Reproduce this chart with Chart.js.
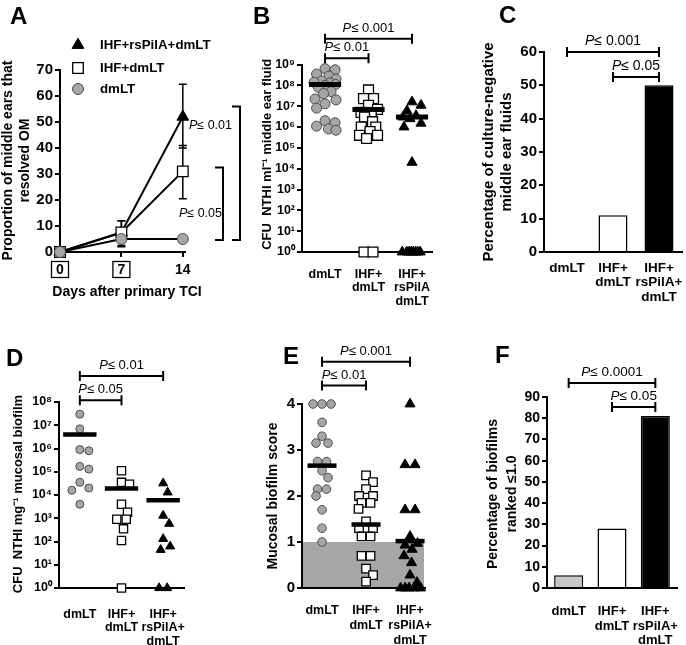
<!DOCTYPE html>
<html>
<head>
<meta charset="utf-8">
<title>Figure</title>
<script src="https://cdn.jsdelivr.net/npm/chart.js@4.4.1/dist/chart.umd.min.js"></script>
<style>
  body { margin: 0; background: #fff; }
  #fig { position: relative; width: 686px; height: 645px; overflow: hidden; background: #fff; }
  #fig canvas { position: absolute; }
  .tag { position: absolute; font: bold 24px 'Liberation Sans', Arial, sans-serif; line-height: 24px; color: #000; }
</style>
</head>
<body>
<div id="fig">
  <canvas id="cA" width="275" height="310" style="left:0;top:0"></canvas>
  <canvas id="cB" width="195" height="310" style="left:245px;top:0"></canvas>
  <canvas id="cC" width="216" height="310" style="left:470px;top:0"></canvas>
  <canvas id="cD" width="235" height="315" style="left:0;top:330px"></canvas>
  <canvas id="cE" width="200" height="315" style="left:240px;top:330px"></canvas>
  <canvas id="cF" width="216" height="315" style="left:470px;top:330px"></canvas>
  <div class="tag" style="left:10px;top:4px">A</div>
  <div class="tag" style="left:253px;top:4px">B</div>
  <div class="tag" style="left:499px;top:3px">C</div>
  <div class="tag" style="left:6px;top:346px">D</div>
  <div class="tag" style="left:283px;top:344px">E</div>
  <div class="tag" style="left:495px;top:343px">F</div>
</div>
<script>
const FONT = "'Liberation Sans', Arial, Helvetica, sans-serif";
const SUP = ['⁰', '¹', '²', '³', '⁴', '⁵', '⁶', '⁷', '⁸', '⁹'];

// A - resolution of OM over time
const days = [0, 7, 14];
const aLegend = ['IHF+rsPilA+dmLT', 'IHF+dmLT', 'dmLT'];
const aTri = [0, 7.5, 52];
const aTriLow = [0, 2.5, 40];
const aTriHigh = [0, 12, 64.5];
const aSq = [0, 7.5, 31];
const aSqLow = [0, 2, 20.5];
const aSqHigh = [0, 12, 41];
const aCirc = [0, 5, 5];
const aTicks = [0, 10, 20, 30, 40, 50, 60, 70];

const groupsB = [['dmLT'], ['IHF+', 'dmLT'], ['IHF+', 'rsPilA', 'dmLT']];
const groups = [['dmLT'], ['IHF+', 'dmLT'], ['IHF+', 'rsPilA+', 'dmLT']];

// B - CFU per ml middle ear fluid
const bDm = [6.3e8, 5.6e8, 3.5e8, 2.8e8, 2e8, 1.6e8, 1.4e8, 1.3e8, 1.1e8, 1e8, 8e7, 5e7, 4e7, 2.2e7, 2e7, 1.3e7, 8e6, 2e6, 1.6e6, 1.1e6, 8e5, 7e5];
const bIhf = [6e7, 2.3e7, 2.3e7, 1.1e7, 7e6, 5e6, 4e6, 4e6, 3e6, 1.8e6, 1e6, 1e6, 6e5, 4e5, 4e5, 2.8e5, 1, 1];
const bPil = [1.6e7, 1.1e7, 6e6, 3.5e6, 3e6, 2.5e6, 1.5e6, 1e6, 2e4, 1, 1, 1, 1, 1, 1, 1, 1];
const bMed = [1.1e8, 7e6, 3e6];
const bTicks = [1, 1e1, 1e2, 1e3, 1e4, 1e5, 1e6, 1e7, 1e8, 1e9];

// C - culture-negative fluids
const cPct = [0, 11, 50];
const cTicks = [0, 10, 20, 30, 40, 50, 60];

// D - CFU per mg mucosal biofilm
const dDm = [3e7, 7e6, 9e5, 8e5, 1.7e5, 1.3e5, 3.5e4, 2e4, 1.6e4, 4e3];
const dIhf = [1.1e5, 3.5e4, 2.9e4, 4e3, 1.8e3, 9e2, 9e2, 3.5e2, 1.1e2, 1];
const dPil = [3.2e4, 1.3e4, 1.3e3, 5.8e2, 1.3e2, 6.2e1, 4.4e1, 1, 1];
const dMed = [4e6, 1.9e4, 6e3];
const dTicks = [1, 1e1, 1e2, 1e3, 1e4, 1e5, 1e6, 1e7, 1e8];

// E - mucosal biofilm score
const eDm = [4, 4, 4, 3.6, 3.3, 3.15, 3.15, 2.75, 2.75, 2.55, 2.4, 2.15, 2.15, 2.0, 1.7, 1.3, 1.0];
const eIhf = [2.45, 2.3, 2.15, 2.0, 2.0, 1.85, 1.85, 1.72, 1.45, 1.3, 1.3, 1.12, 1.12, 0.7, 0.7, 0.42, 0.28, 0.14];
const ePil = [4, 2.68, 2.68, 1.7, 1.7, 1.12, 0.97, 0.93, 0.84, 0.7, 0.55, 0.28, 0.12, 0, 0, 0, 0, 0];
const eMed = [2.66, 1.38, 1.02];
const eBand = [0, 1];
const eTicks = [0, 1, 2, 3, 4];

// F - biofilms ranked <= 1
const fPct = [6, 28, 81];
const fTicks = [0, 10, 20, 30, 40, 50, 60, 70, 80, 90];

// significance brackets
const aSig = [{hi: 56, lo: 4.6, p: '0.01'}, {hi: 32.5, lo: 4.6, p: '0.05'}];
const bSig = [{from: 1, to: 3, at: 1.7e10, p: '0.001'}, {from: 1, to: 2, at: 2e9, p: '0.01'}];
const cSig = [{from: 0, to: 2, at: 60, p: '0.001'}, {from: 1, to: 2, at: 52.5, p: '0.05'}];
const dSig = [{from: 1, to: 3, at: 1.3e9, p: '0.01'}, {from: 1, to: 2, at: 1.2e8, p: '0.05'}];
const eSig = [{from: 1, to: 3, at: 4.92, p: '0.001'}, {from: 1, to: 2, at: 4.4, p: '0.01'}];
const fSig = [{from: 0, to: 2, at: 96.6, p: '0.0001'}, {from: 1, to: 2, at: 85.3, p: '0.05'}];

const GRAY = {ps: 'circle', fill: '#a6a6a6', line: '#4d4d4d', bw: 1};
const OPEN = {ps: 'rect', fill: '#fff', line: '#000', bw: 1.3};
const SOLID = {ps: 'triangle', fill: '#000', line: '#000', bw: 1};

function marks(s, r) {
  return {pointStyle: s.ps, pointRadius: r, pointHoverRadius: r, pointBackgroundColor: s.fill,
    pointBorderColor: s.line, pointBorderWidth: s.bw};
}

function bold(size, lh) {
  return {family: FONT, size: size, weight: 'bold', lineHeight: lh || 1.2};
}

function base(pad, x, y) {
  return {
    responsive: false, animation: false, events: [],
    layout: {padding: pad, autoPadding: false},
    plugins: {legend: {display: false}, tooltip: {enabled: false}},
    scales: {x: x, y: y}
  };
}

function yScale(o) {
  return {
    type: o.type || 'linear', min: o.min, max: o.max,
    afterFit: s => { s.width = o.width; s.paddingTop = 0; s.paddingBottom = 0; },
    afterBuildTicks: s => { s.ticks = o.ticks.map(v => ({value: v})); },
    border: {display: true, color: '#000', width: 2},
    grid: {drawOnChartArea: false, drawTicks: true, tickLength: 5, color: '#000', lineWidth: 2},
    ticks: {color: '#000', padding: 2, autoSkip: false, font: bold(o.tick), callback: o.fmt || (v => v)}
  };
}

function xDots(o) {
  return {
    type: 'linear', min: o.min, max: o.max,
    afterFit: s => { s.height = o.height; s.paddingLeft = 0; s.paddingRight = 0; },
    afterBuildTicks: s => { s.ticks = [1, 2, 3].map(v => ({value: v})); },
    border: {display: true, color: '#000', width: 2},
    grid: {display: false},
    ticks: {color: '#000', padding: o.pad, maxRotation: 0, autoSkip: false, font: bold(o.size, o.lh),
      callback: v => o.labels[v - 1]}
  };
}

function xBars(o) {
  return {
    type: 'category',
    afterFit: s => { s.height = o.height; s.paddingLeft = 0; s.paddingRight = 0; },
    border: {display: true, color: '#000', width: 2},
    grid: {display: false},
    ticks: {color: '#000', padding: o.pad, maxRotation: 0, autoSkip: false, font: bold(o.size, o.lh)}
  };
}

// axis titles drawn at full width (the built-in title squeezes long text)
function titlePlugin(t) {
  return {
    id: 'titles',
    afterDraw(chart) {
      const {ctx, chartArea: a} = chart;
      ctx.save();
      ctx.fillStyle = '#000';
      ctx.textAlign = 'center';
      ctx.textBaseline = 'middle';
      if (t.y) {
        ctx.font = 'bold ' + t.y.size + 'px ' + FONT;
        const my = (a.top + a.bottom) / 2 + (t.y.dy || 0);
        t.y.lines.forEach((line, i) => {
          ctx.save();
          ctx.translate(t.y.x + i * t.y.lh, my);
          ctx.rotate(-Math.PI / 2);
          ctx.fillText(line, 0, 0);
          ctx.restore();
        });
      }
      if (t.x) {
        ctx.font = 'bold ' + t.x.size + 'px ' + FONT;
        ctx.fillText(t.x.text, t.x.x, t.x.y);
      }
      ctx.restore();
    }
  };
}

function pText(ctx, val, x, y, size, align) {
  ctx.textBaseline = 'middle';
  ctx.textAlign = 'left';
  const rest = '≤ ' + val;
  ctx.font = 'italic ' + size + 'px ' + FONT;
  const wp = ctx.measureText('P').width;
  ctx.font = size + 'px ' + FONT;
  const wr = ctx.measureText(rest).width;
  const x0 = align === 'right' ? x - wp - wr : x - (wp + wr) / 2;
  ctx.font = 'italic ' + size + 'px ' + FONT;
  ctx.fillText('P', x0, y);
  ctx.font = size + 'px ' + FONT;
  ctx.fillText(rest, x0 + wp, y);
}

function bracketPlugin(items, size) {
  return {
    id: 'sig',
    afterDraw(chart) {
      const {ctx, scales: {x, y}} = chart;
      ctx.save();
      ctx.strokeStyle = '#000';
      ctx.fillStyle = '#000';
      ctx.lineWidth = 2;
      items.forEach(it => {
        const x1 = x.getPixelForValue(it.from), x2 = x.getPixelForValue(it.to);
        const py = y.getPixelForValue(it.at);
        ctx.beginPath();
        ctx.moveTo(x1, py); ctx.lineTo(x2, py);
        ctx.moveTo(x1, py - 5); ctx.lineTo(x1, py + 5);
        ctx.moveTo(x2, py - 5); ctx.lineTo(x2, py + 5);
        ctx.stroke();
        pText(ctx, it.p, (x1 + x2) / 2, py - 10.5, size, 'center');
      });
      ctx.restore();
    }
  };
}

// spread points of one group sideways so they do not sit on each other
function swarm(chart, vals, cat, diam, spread) {
  const xs = chart.scales.x, ys = chart.scales.y;
  const unit = xs.getPixelForValue(cat + 1) - xs.getPixelForValue(cat);
  const cands = [0];
  for (let k = 0.5; k <= spread + 1e-9; k += 0.5) cands.push(k, -k);
  const placed = [];
  vals.map(v => ({v: v, py: ys.getPixelForValue(v)}))
    .sort((p, q) => p.py - q.py)
    .forEach(p => {
      let best = 0, bestGap = -1;
      for (const dx of cands) {
        let gap = Infinity;
        for (const q of placed) gap = Math.min(gap, Math.hypot(q.dx - dx, q.py - p.py));
        if (gap >= diam) { best = dx; break; }
        if (gap > bestGap) { bestGap = gap; best = dx; }
      }
      p.dx = best;
      placed.push(p);
    });
  // centre runs of identical values
  const byVal = {};
  placed.forEach(p => { (byVal[p.v] = byVal[p.v] || []).push(p); });
  Object.values(byVal).forEach(g => {
    if (g.length < 2) return;
    const m = g.reduce((s, p) => s + p.dx, 0) / g.length;
    g.forEach(p => { p.dx -= m; });
  });
  return placed.map(p => ({x: cat + p.dx / unit, y: p.v}));
}

function dotPanel(id, cfg) {
  const sets = cfg.series.map((vals, i) => Object.assign({
    type: 'scatter', data: vals.map(v => ({x: i + 1, y: v})), clip: false, order: 2
  }, marks(cfg.styles[i], cfg.radius[i])));
  const meds = cfg.medians.map((m, i) => ({
    type: 'line', data: [{x: i + 1 - cfg.medHalf, y: m}, {x: i + 1 + cfg.medHalf, y: m}],
    borderColor: '#000', borderWidth: cfg.medWidth, pointRadius: 0, borderCapStyle: 'butt', clip: false, order: 1
  }));
  const chart = new Chart(document.getElementById(id), {
    type: 'scatter',
    data: {datasets: sets.concat(meds)},
    options: base(cfg.pad, xDots(cfg.x), yScale(cfg.y)),
    plugins: [bracketPlugin(cfg.sig, cfg.pSize), titlePlugin(cfg.titles)].concat(cfg.extra || [])
  });
  cfg.series.forEach((vals, i) => {
    chart.data.datasets[i].data = swarm(chart, vals, i + 1, cfg.diam[i], cfg.spread[i]);
  });
  chart.update('none');
  return chart;
}

function barPanel(id, cfg) {
  return new Chart(document.getElementById(id), {
    type: 'bar',
    data: {labels: groups, datasets: [{
      data: cfg.values, backgroundColor: cfg.fills, borderColor: '#000', borderWidth: 1.5,
      barPercentage: 1, categoryPercentage: cfg.cat, borderSkipped: 'bottom'
    }]},
    options: base(cfg.pad, xBars(cfg.x), yScale(cfg.y)),
    plugins: [bracketPlugin(cfg.sig, cfg.pSize), titlePlugin(cfg.titles)]
  });
}

function drawMark(ctx, s, r, x, y) {
  ctx.fillStyle = s.fill;
  ctx.strokeStyle = s.line;
  ctx.lineWidth = s.bw;
  if (Chart.helpers && Chart.helpers.drawPoint) {
    Chart.helpers.drawPoint(ctx, {pointStyle: s.ps, radius: r, rotation: 0, borderWidth: s.bw}, x, y);
    return;
  }
  ctx.beginPath();
  if (s.ps === 'circle') ctx.arc(x, y, r, 0, Math.PI * 2);
  else if (s.ps === 'rect') { const h = r * Math.SQRT1_2; ctx.rect(x - h, y - h, 2 * h, 2 * h); }
  else { ctx.moveTo(x, y - r); ctx.lineTo(x + r * 0.866, y + r / 2); ctx.lineTo(x - r * 0.866, y + r / 2); ctx.closePath(); }
  ctx.fill();
  ctx.stroke();
}

// ---------- A
const errBars = {
  id: 'errBars',
  beforeDatasetsDraw(chart) {
    const {ctx, scales: {x, y}} = chart;
    ctx.save();
    ctx.strokeStyle = '#000';
    ctx.lineWidth = 1.5;
    [[aTriLow, aTriHigh], [aSqLow, aSqHigh]].forEach(([lo, hi]) => {
      days.forEach((d, i) => {
        if (hi[i] === lo[i]) return;
        const px = x.getPixelForValue(d), p1 = y.getPixelForValue(lo[i]), p2 = y.getPixelForValue(hi[i]);
        ctx.beginPath();
        ctx.moveTo(px, p1); ctx.lineTo(px, p2);
        ctx.moveTo(px - 4, p1); ctx.lineTo(px + 4, p1);
        ctx.moveTo(px - 4, p2); ctx.lineTo(px + 4, p2);
        ctx.stroke();
      });
    });
    ctx.restore();
  }
};

const legendA = {
  id: 'legendA',
  afterDraw(chart) {
    const ctx = chart.ctx;
    const styles = [SOLID, OPEN, GRAY], rad = [6.8, 7.5, 5.5], rows = [45, 68, 89];
    ctx.save();
    aLegend.forEach((t, i) => {
      drawMark(ctx, styles[i], rad[i], 78, rows[i]);
      ctx.fillStyle = '#000';
      ctx.font = 'bold 13.3px ' + FONT;
      ctx.textBaseline = 'middle';
      ctx.textAlign = 'left';
      ctx.fillText(t, 100, rows[i] + 0.5);
    });
    ctx.restore();
  }
};

const tickBoxes = {
  id: 'tickBoxes',
  afterDraw(chart) {
    const {ctx, chartArea: a, scales: {x}} = chart;
    ctx.save();
    ctx.strokeStyle = '#000';
    ctx.lineWidth = 1.3;
    days.slice(0, 2).forEach(d => {
      const px = x.getPixelForValue(d);
      ctx.strokeRect(px - 8.5, a.bottom + 9.5, 17, 16);
    });
    ctx.restore();
  }
};

const sideBrackets = {
  id: 'sideBrackets',
  afterDraw(chart) {
    const {ctx, chartArea: a, scales: {y}} = chart;
    const bx = [a.right + 55, a.right + 38];
    const textRight = [a.right + 47, a.right + 37];
    const textDown = [19, 46];
    ctx.save();
    ctx.strokeStyle = '#000';
    ctx.fillStyle = '#000';
    ctx.lineWidth = 2;
    aSig.forEach((s, i) => {
      const t = y.getPixelForValue(s.hi), b = y.getPixelForValue(s.lo);
      ctx.beginPath();
      ctx.moveTo(bx[i] - 8, t); ctx.lineTo(bx[i], t); ctx.lineTo(bx[i], b); ctx.lineTo(bx[i] - 8, b);
      ctx.stroke();
      pText(ctx, s.p, textRight[i], t + textDown[i], 12.5, 'right');
    });
    ctx.restore();
  }
};

new Chart(document.getElementById('cA'), {
  type: 'line',
  data: {datasets: [
    Object.assign({data: days.map((d, i) => ({x: d, y: aCirc[i]})), borderColor: '#000', borderWidth: 2, clip: false, order: 0}, marks(GRAY, 5.5)),
    Object.assign({data: days.map((d, i) => ({x: d, y: aSq[i]})), borderColor: '#000', borderWidth: 2, clip: false, order: 1}, marks(OPEN, 7.5)),
    Object.assign({data: days.map((d, i) => ({x: d, y: aTri[i]})), borderColor: '#000', borderWidth: 2, clip: false, order: 2}, marks(SOLID, 6.8))
  ]},
  options: base({left: 0, top: 70, right: 90, bottom: 0}, {
    type: 'linear', min: 0, max: 14.25,
    afterFit: s => { s.height = 58; s.paddingLeft = 0; s.paddingRight = 0; },
    afterBuildTicks: s => { s.ticks = days.map(v => ({value: v})); },
    border: {display: true, color: '#000', width: 2},
    grid: {drawOnChartArea: false, drawTicks: true, tickLength: 5, color: '#000', lineWidth: 2},
    ticks: {color: '#000', padding: 4.5, autoSkip: false, maxRotation: 0, font: bold(14)}
  }, yScale({min: 0, max: 70, ticks: aTicks, width: 60, tick: 15})),
  plugins: [errBars, legendA, tickBoxes, sideBrackets, titlePlugin({
    y: {lines: ['Proportion of middle ears that', 'resolved OM'], size: 14, x: 8.4, lh: 16.8, dy: -0.5},
    x: {text: 'Days after primary TCI', size: 14, x: 127, y: 292}
  })]
});

// ---------- B
dotPanel('cB', {
  series: [bDm, bIhf, bPil], styles: [GRAY, OPEN, SOLID], radius: [5, 7, 5.8],
  diam: [10, 10, 10], spread: [11, 9, 9],
  medians: bMed, medHalf: 0.37, medWidth: 5,
  pad: {left: 0, top: 64.5, right: 8, bottom: 0},
  x: {min: 0.47, max: 3.46, height: 58, pad: 7.5, size: 12.5, lh: 1.08, labels: groupsB},
  y: {type: 'logarithmic', min: 1, max: 1e9, ticks: bTicks, width: 57, tick: 12.5,
    fmt: v => '10' + SUP[Math.round(Math.log10(v))]},
  titles: {y: {lines: ['CFU  NTHI ml⁻¹ middle ear fluid'], size: 13, x: 22, lh: 0, dy: -4}},
  sig: bSig, pSize: 13
});

// ---------- C
barPanel('cC', {
  values: cPct, fills: ['#fff', '#fff', '#000'], cat: 0.63,
  pad: {left: 0, top: 52, right: 4, bottom: 0},
  x: {height: 58, pad: 0.5, size: 13.5, lh: 1.1},
  y: {min: 0, max: 60, ticks: cTicks, width: 74, tick: 15},
  titles: {y: {lines: ['Percentage of culture-negative', 'middle ear fluids'], size: 15, x: 19, lh: 18}},
  sig: cSig, pSize: 14
});

// ---------- D
dotPanel('cD', {
  series: [dDm, dIhf, dPil], styles: [GRAY, OPEN, SOLID], radius: [4, 5.8, 5.2],
  diam: [11, 10, 10], spread: [9, 8, 8],
  medians: dMed, medHalf: 0.4, medWidth: 4.5,
  pad: {left: 0, top: 72, right: 51, bottom: 0},
  x: {min: 0.5, max: 3.5, height: 57, pad: 11.5, size: 12.5, lh: 1.08, labels: groups},
  y: {type: 'logarithmic', min: 1, max: 1e8, ticks: dTicks, width: 59, tick: 12.5,
    fmt: v => '10' + SUP[Math.round(Math.log10(v))]},
  titles: {y: {lines: ['CFU  NTHI mg⁻¹ mucosal biofilm'], size: 13, x: 18, lh: 0, dy: -1}},
  sig: dSig, pSize: 13
});

// ---------- E
const bandE = {
  id: 'bandE',
  beforeDraw(chart) {
    const {ctx, chartArea: a, scales: {y}} = chart;
    const t = y.getPixelForValue(eBand[1]), b = y.getPixelForValue(eBand[0]);
    ctx.save();
    ctx.fillStyle = '#a6a6a6';
    ctx.fillRect(a.left, t, a.right - a.left - 1, b - t);
    ctx.restore();
  }
};

dotPanel('cE', {
  series: [eDm, eIhf, ePil], styles: [GRAY, OPEN, SOLID], radius: [4.3, 6, 5.8],
  diam: [9, 9.5, 10], spread: [9, 9, 10],
  medians: eMed, medHalf: 0.33, medWidth: 4.5,
  pad: {left: 0, top: 74, right: 15, bottom: 0},
  x: {min: 0.545, max: 3.34, height: 57, pad: 7.5, size: 12.5, lh: 1.2, labels: groups},
  y: {min: 0, max: 4, ticks: eTicks, width: 62, tick: 15},
  titles: {y: {lines: ['Mucosal biofilm score'], size: 14, x: 33, lh: 0}},
  sig: eSig, pSize: 13, extra: [bandE]
});

// ---------- F
barPanel('cF', {
  values: fPct, fills: ['#c8c8c8', '#fff', '#000'], cat: 0.67,
  pad: {left: 0, top: 67, right: 9, bottom: 0},
  x: {height: 57, pad: 7.5, size: 13, lh: 1.15},
  y: {min: 0, max: 90, ticks: fTicks, width: 77, tick: 14},
  titles: {y: {lines: ['Percentage of biofilms', 'ranked ≤1.0'], size: 14, x: 23, lh: 19, dy: 1.5}},
  sig: fSig, pSize: 13.5
});
</script>
</body>
</html>
